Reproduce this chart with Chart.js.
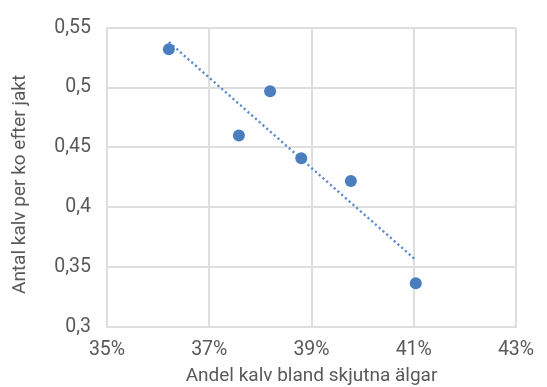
<!DOCTYPE html>
<html>
<head>
<meta charset="utf-8">
<script src="https://cdn.jsdelivr.net/npm/chart.js@4/dist/chart.umd.min.js"></script>
<style>
  html, body { margin: 0; padding: 0; background: #ffffff; }
  #wrap { width: 547px; height: 387px; position: relative; }
</style>
</head>
<body>
<div id="wrap"><canvas id="c" width="547" height="387"></canvas></div>
<script>
// Data
const xValues = [36.21, 38.19, 37.58, 38.80, 39.77, 41.04];   // Andel kalv bland skjutna älgar (%)
const yValues = [0.532, 0.497, 0.460, 0.441, 0.422, 0.3365];  // Antal kalv per ko efter jakt
const trendX = [36.21, 41.04];   // dotted trend line end points
const trendY = [0.538, 0.356];
const xTitle = 'Andel kalv bland skjutna älgar';
const yTitle = 'Antal kalv per ko efter jakt';

const points = xValues.map((x, i) => ({ x: x, y: yValues[i] }));
const trend = trendX.map((x, i) => ({ x: x, y: trendY[i] }));

const gridColor = '#dedede';
const textColor = '#595959';
const fontFamily = 'Roboto, "Liberation Sans", Arial, sans-serif';

new Chart(document.getElementById('c'), {
  type: 'scatter',
  data: {
    datasets: [
      {
        data: points,
        backgroundColor: '#4a7ebf',
        borderColor: '#4a7ebf',
        borderWidth: 0,
        pointRadius: 6,
        pointHoverRadius: 6,
        order: 1
      },
      {
        data: trend,
        showLine: true,
        borderColor: '#5b8dcc',
        borderWidth: 2.4,
        borderDash: [2.2, 2.8],
        pointRadius: 0,
        fill: false,
        order: 2
      }
    ]
  },
  options: {
    responsive: false,
    animation: false,
    devicePixelRatio: 1,
    layout: { padding: { top: 21, right: 31, left: 0, bottom: 0 } },
    plugins: {
      legend: { display: false },
      tooltip: { enabled: false }
    },
    scales: {
      x: {
        type: 'linear',
        min: 35,
        max: 43,
        afterFit: (s) => { s.height = 60; },
        ticks: {
          stepSize: 2,
          padding: 11,
          color: textColor,
          font: { family: fontFamily, size: 19.5 },
          callback: (v) => v + '%'
        },
        grid: { color: gridColor, lineWidth: 2, drawTicks: false },
        border: { color: gridColor, width: 2 },
        title: {
          display: true,
          text: xTitle,
          color: textColor,
          font: { family: fontFamily, size: 19, lineHeight: 1 },
          padding: { top: 0, bottom: 1 }
        }
      },
      y: {
        type: 'linear',
        min: 0.3,
        max: 0.55,
        afterFit: (s) => { s.width = 107; },
        ticks: {
          stepSize: 0.05,
          padding: 16,
          color: textColor,
          font: { family: fontFamily, size: 19.5 },
          callback: (v) => String(Math.round(v * 100) / 100).replace('.', ',')
        },
        grid: { color: gridColor, lineWidth: 2, drawTicks: false },
        border: { color: gridColor, width: 2 },
        title: {
          display: true,
          text: yTitle + '\u00a0\u00a0\u00a0',
          color: textColor,
          font: { family: fontFamily, size: 19, lineHeight: 1 },
          padding: { top: 11, bottom: 0 }
        }
      }
    }
  }
});
</script>
</body>
</html>
